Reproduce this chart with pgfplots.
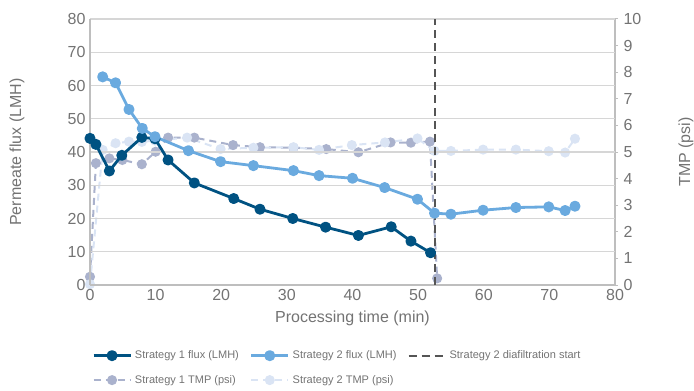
\documentclass[border=0pt]{standalone}
\usepackage{pgfplots}
\pgfplotsset{compat=1.18}
\usepackage{fontspec}
\setmainfont{Liberation Sans}

\definecolor{sonef}{RGB}{0,82,130}
\definecolor{stwof}{RGB}{106,170,223}
\definecolor{sonet}{RGB}{170,178,205}
\definecolor{stwot}{RGB}{218,228,244}
\definecolor{vlinec}{RGB}{85,85,85}
\definecolor{gridc}{RGB}{214,214,214}
\definecolor{axisc}{RGB}{190,190,190}
\definecolor{textc}{RGB}{115,115,115}

\pgfplotsset{
  common/.style={
    at={(0,0)}, anchor=south west,
    scale only axis, width=525pt, height=266pt,
    xmin=0, xmax=80,
    /pgf/number format/assume math mode=true,
    tick label style={font=\fontsize{16}{18}\selectfont, text=textc},
    label style={font=\fontsize{16}{18}\selectfont, text=textc},
    axis line style={draw=axisc, line width=1.3pt},
    clip=false,
  },
  fluxline/.style={line width=2.8pt, mark=*, mark size=4.1pt, line join=round},
  tmpline/.style={line width=2pt, dash pattern=on 7pt off 5pt, mark=*, mark size=4pt},
}

\begin{document}
\begin{tikzpicture}
\path[use as bounding box] (-90pt,-106pt) rectangle (604pt,285pt);

% Transmembrane pressure on the right-hand axis
\begin{axis}[common,
  ymin=0, ymax=10,
  axis x line=none, axis y line*=right,
  ytick={0,1,...,10},
  ytick style={draw=axisc, line width=1pt},
  major tick length=3pt,
  tick align=outside,
  yticklabel style={xshift=2pt},
  ylabel={TMP (psi)},
  ylabel style={at={(axis description cs:1.135,0.5)}, anchor=center, rotate=0},
]
\addplot[tmpline, color=sonet, mark options={solid, draw=none, fill=sonet}] coordinates {
  (0,0.31) (0.9,4.58) (2.95,4.76) (4.93,4.70) (7.9,4.54) (10,5.01)
  (11.9,5.54) (15.9,5.54) (21.8,5.26) (25.9,5.18) (31,5.16) (36,5.11)
  (40.9,4.99) (45.8,5.36) (48.9,5.35) (51.8,5.39) (52.9,0.25)
};
\addplot[tmpline, color=stwot, mark options={solid, draw=none, fill=stwot}] coordinates {
  (0,0.03) (1.93,5.08) (3.9,5.33) (5.94,5.39) (7.9,5.38) (9.9,5.43)
  (14.8,5.54) (19.9,5.11) (24.9,5.16) (31,5.18) (34.9,5.08) (39.9,5.26)
  (44.95,5.36) (49.9,5.51) (52.5,5.04) (55,5.04) (59.9,5.09) (64.9,5.09)
  (69.9,5.03) (72.4,4.98) (73.9,5.5)
};
\end{axis}

% Permeate flux on the left-hand axis
\begin{axis}[common,
  ymin=0, ymax=80,
  axis x line*=bottom, axis y line*=left,
  xtick={0,10,...,80}, ytick={0,10,...,80},
  major tick length=0pt,
  ymajorgrids, grid style={draw=gridc, line width=1.1pt},
  xticklabel style={yshift=-1pt},
  yticklabel style={xshift=-1pt},
  xlabel={Processing time (min)},
  xlabel style={at={(axis description cs:0.5,-0.124)}, anchor=center},
  ylabel={Permeate flux (LMH)},
  ylabel style={at={(axis description cs:-0.139,0.5)}, anchor=center},
  legend columns=3,
  legend cell align=left,
  legend style={at={(axis description cs:-0.002,-0.232)}, anchor=north west,
    draw=none, fill=none, font=\fontsize{11}{13}\selectfont, text=textc,
    row sep=11pt,
    /tikz/every odd column/.append style={column sep=1pt},
    /tikz/every even column/.append style={column sep=9pt}},
  legend image code/.code={\draw[mark repeat=2, mark phase=2, #1]
    plot coordinates {(0pt,0pt) (18.5pt,0pt) (37pt,0pt)};},
]
\addplot[fluxline, color=sonef, mark options={draw=none, fill=sonef}] coordinates {
  (0,44.1) (0.9,42.3) (2.95,34.3) (4.85,39) (7.9,44.4) (9.9,44)
  (11.9,37.6) (15.9,30.7) (21.9,26) (25.9,22.8) (30.9,20) (35.9,17.4)
  (40.9,14.9) (45.9,17.5) (48.9,13.2) (51.9,9.7)
};
\addlegendentry{Strategy 1 flux (LMH)}
\addplot[fluxline, color=stwof, mark options={draw=none, fill=stwof}] coordinates {
  (1.93,62.6) (3.9,60.8) (5.94,52.8) (7.97,47.1) (9.9,44.6) (15,40.4)
  (19.9,37.1) (24.9,35.9) (31,34.4) (34.9,32.9) (40,32.1) (44.9,29.3)
  (49.9,25.8) (52.5,21.6) (55,21.3) (59.9,22.5) (64.9,23.3) (69.9,23.5)
  (72.4,22.4) (73.9,23.7)
};
\addlegendentry{Strategy 2 flux (LMH)}
\addplot[color=vlinec, line width=2pt, dash pattern=on 8pt off 5pt, mark=none] coordinates {
  (52.5,0) (52.5,80)
};
\addlegendentry{Strategy 2 diafiltration start}
\addlegendimage{tmpline, color=sonet, mark options={solid, draw=none, fill=sonet}}
\addlegendentry{Strategy 1 TMP (psi)}
\addlegendimage{tmpline, color=stwot, mark options={solid, draw=none, fill=stwot}}
\addlegendentry{Strategy 2 TMP (psi)}
\end{axis}
\end{tikzpicture}
\end{document}
